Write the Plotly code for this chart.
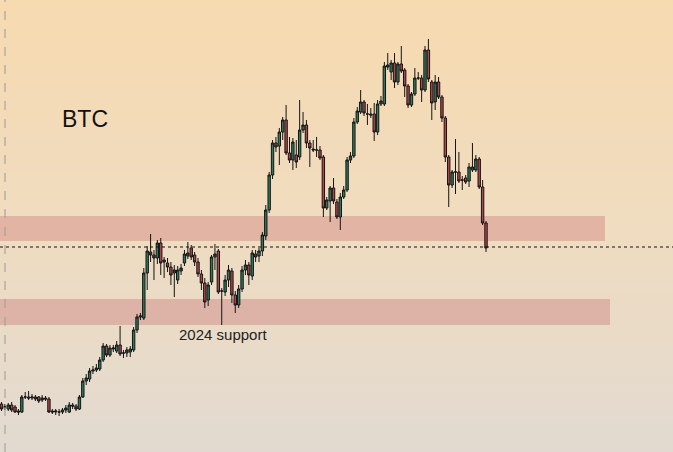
import plotly.graph_objects as go

# Weekly BTC candles (price units, arbitrary scale)
open_ = [48,45,43,47,45,41,40,55,55,54,55,55,52,54,53,41,40,40,40,42,40,47,46,43,55,71,73,81,82,83,
         92,106,97,103,101,107,99,99,100,102,122,135,134,179,200,197,194,209,192,189,185,179,172,181,189,196,204,197,190,178,
         169,152,170,195,201,161,160,172,181,157,147,163,182,187,176,198,196,201,216,242,277,309,306,320,332,299,292,297,295,322,
         327,309,303,302,302,295,244,251,264,250,235,255,262,292,296,330,340,350,338,338,338,320,348,348,385,380,389,370,388,382,
         366,347,358,374,374,362,402,370,350,370,355,334,295,267,280,280,272,274,271,282,282,293,265,229]
close = [43,45,47,42,40,40,55,55,54,55,53,51,54,53,40,40,41,40,42,44,47,46,43,55,71,74,81,82,84,92,
         106,97,104,104,107,98,99,102,103,122,135,136,179,201,197,194,209,189,190,185,177,182,182,184,198,199,195,190,178,169,
         150,167,195,198,160,161,172,182,157,147,163,182,187,177,199,195,201,217,242,277,309,305,320,332,299,292,310,290,322,327,
         309,304,302,302,294,244,252,264,251,235,255,262,292,296,330,341,350,339,338,337,320,348,351,386,387,389,370,388,381,366,
         347,358,374,374,362,402,373,349,370,355,334,295,267,280,280,271,272,270,285,285,293,265,229,204]
high = [50,48,49,50,47,43,57,60,61,58,57,56,57,56,55,43,43,43,44,47,50,49,48,57,74,78,84,86,88,95,
        109,108,107,107,111,126,102,105,106,125,138,139,184,206,218,202,212,214,195,194,190,187,186,188,202,210,207,200,194,182,
        174,170,197,208,203,164,177,187,184,161,167,186,192,190,202,202,204,220,247,280,312,315,324,335,347,315,314,312,352,340,
        332,312,312,315,306,297,255,266,274,253,259,266,295,300,334,345,362,352,348,344,349,352,356,390,399,392,399,390,406,384,
        368,360,384,380,377,406,413,372,377,375,357,336,297,282,313,300,276,277,289,309,297,295,272,231]
low = [41,42,41,40,39,37,39,53,52,52,51,49,50,51,39,38,37,36,38,39,39,43,41,42,54,67,70,78,80,81,
       90,95,95,100,99,96,94,95,95,100,119,132,132,162,190,172,188,177,174,180,167,155,168,177,186,193,192,186,175,162,
       144,146,167,182,158,127,156,165,149,139,144,160,177,167,172,190,190,196,212,239,273,300,287,312,297,289,282,284,292,319,
       304,285,300,295,292,235,242,230,248,233,222,253,260,289,294,328,338,336,327,334,311,317,346,346,382,372,364,367,379,355,
       344,345,356,372,350,360,370,332,342,353,330,290,245,264,258,269,262,268,265,280,280,263,227,200]

upper_zone = [211, 236]     # resistance band
support_zone = [127, 153]   # "2024 support" band
last_price = 205            # dotted level

n = len(close)
x = list(range(n))

fig = go.Figure()

fig.add_trace(go.Candlestick(
    x=x, open=open_, high=high, low=low, close=close,
    increasing=dict(fillcolor="#2d7a5f", line=dict(color="#141414", width=1)),
    decreasing=dict(fillcolor="#b3464a", line=dict(color="#141414", width=1)),
    whiskerwidth=0, showlegend=False, hoverinfo="skip",
))

# background vertical gradient
top = (246, 218, 176)
mid = (240, 220, 192)
bot = (226, 218, 208)
shapes = []
N = 60
for k in range(N):
    t = k / (N - 1)
    if t < 0.5:
        u = t / 0.5
        c = [round(top[j] + (mid[j] - top[j]) * u) for j in range(3)]
    else:
        u = (t - 0.5) / 0.5
        c = [round(mid[j] + (bot[j] - mid[j]) * u) for j in range(3)]
    y1 = 1 - k / N
    y0 = 1 - (k + 1) / N
    shapes.append(dict(type="rect", xref="paper", yref="paper", x0=0, x1=1, y0=y0 - 0.001, y1=y1,
                       fillcolor=f"rgb({c[0]},{c[1]},{c[2]})", line=dict(width=0), layer="below"))

band_col = "rgba(206,125,125,0.42)"
shapes.append(dict(type="rect", xref="paper", yref="y", x0=0, x1=605 / 673,
                   y0=upper_zone[0], y1=upper_zone[1], fillcolor=band_col, line=dict(width=0), layer="below"))
shapes.append(dict(type="rect", xref="paper", yref="y", x0=0, x1=610 / 673,
                   y0=support_zone[0], y1=support_zone[1], fillcolor=band_col, line=dict(width=0), layer="below"))
shapes.append(dict(type="line", xref="paper", yref="y", x0=0, x1=1, y0=last_price, y1=last_price,
                   line=dict(color="#111111", width=1, dash="dot")))
shapes.append(dict(type="line", xref="paper", yref="paper", x0=5 / 673, x1=5 / 673, y0=0, y1=1,
                   line=dict(color="#9a9a9a", width=1, dash="dash")))

px0 = 1.5
step = (486 - 1.5) / (n - 1)
x_lo = -px0 / step
x_hi = x_lo + 673 / step

fig.update_layout(
    width=673, height=452,
    margin=dict(l=0, r=0, t=0, b=0),
    paper_bgcolor="rgb(236,220,198)",
    plot_bgcolor="rgba(0,0,0,0)",
    shapes=shapes,
    boxgap=0.0,
    xaxis=dict(range=[x_lo, x_hi], visible=False, rangeslider=dict(visible=False), fixedrange=True),
    yaxis=dict(range=[0, 452], visible=False, fixedrange=True),
    annotations=[
        dict(text="BTC", x=85 / 673, y=1 - 119 / 452, xref="paper", yref="paper", showarrow=False,
             xanchor="center", yanchor="middle",
             font=dict(family="Liberation Sans, Arial", size=23, color="#111111")),
        dict(text="2024 support", x=223 / 673, y=1 - 334 / 452, xref="paper", yref="paper", showarrow=False,
             xanchor="center", yanchor="middle",
             font=dict(family="Liberation Sans, Arial", size=15, color="#222222")),
    ],
)

fig.write_html("out.html", config={"displayModeBar": False},
               post_script="document.body.style.margin='0';document.body.style.overflow='hidden';")
